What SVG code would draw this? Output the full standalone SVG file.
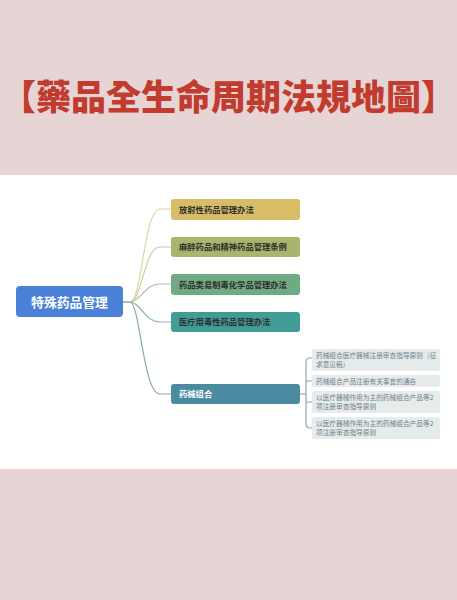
<svg xmlns="http://www.w3.org/2000/svg" width="457" height="600" viewBox="0 0 457 600">
<style>
.t{font-family:"Noto Sans CJK SC","Noto Sans",sans-serif;}
.c{font-size:8.3px;font-weight:700;fill:#2f2f2f;}
.s{font-size:6.7px;fill:#6f8288;}
.sb{fill:#e6ebec;}
.ln{fill:none;stroke-width:1.2;}
</style>
<rect width="457" height="600" fill="#e7d5d5"/>
<rect x="0" y="175" width="457" height="294" fill="#ffffff"/>
<text x="228.5" y="110" text-anchor="middle" font-family="'Noto Sans CJK TC','Noto Sans CJK SC',sans-serif" font-size="35" font-weight="900" fill="#c23b2f">【藥品全生命周期法規地圖】</text>
<g id="connectors">
<path class="ln" stroke="#e0d49c" d="M122,302 H130 C142,302 144,209 160,209 H171"/>
<path class="ln" stroke="#c9cf9c" d="M122,302 H130 C142,302 144,247 160,247 H171"/>
<path class="ln" stroke="#a7c4ae" d="M122,302 H130 C140,302 145,284 160,284 H171"/>
<path class="ln" stroke="#8fb9b3" d="M122,302 H130 C140,302 145,322 160,322 H171"/>
<path class="ln" stroke="#8aa7b2" d="M130,302 C140,302 143,394 160,394 H171"/>
<path class="ln" stroke="#8aa7b2" stroke-width="1" d="M300,394 H306"/>
<path class="ln" stroke="#8aa7b2" stroke-width="1" d="M312,358 H310 Q306,358 306,362 V424 Q306,428 310,428 H312 M306,381 H312 M306,402 H312"/>
</g>
<g id="root">
<rect x="16" y="286" width="107" height="31" rx="4" fill="#4a80d8"/>
<text class="t" x="69.5" y="306.5" text-anchor="middle" font-size="12.8" font-weight="700" fill="#ffffff">特殊药品管理</text>
</g>
<g id="n1">
<rect x="171" y="199" width="129" height="21" rx="3" fill="#d8bd68"/>
<text class="t c" x="179" y="212.5">放射性药品管理办法</text>
</g>
<g id="n2">
<rect x="171" y="237" width="129" height="20" rx="3" fill="#a9b46c"/>
<text class="t c" x="179" y="250">麻醉药品和精神药品管理条例</text>
</g>
<g id="n3">
<rect x="171" y="274" width="129" height="21" rx="3" fill="#70aa84"/>
<text class="t c" x="179" y="287.5">药品类易制毒化学品管理办法</text>
</g>
<g id="n4">
<rect x="171" y="312" width="129" height="20" rx="3" fill="#3f9d95"/>
<text class="t c" x="179" y="325">医疗用毒性药品管理办法</text>
</g>
<g id="n5">
<rect x="171" y="384" width="129" height="20" rx="3" fill="#4b8ba1"/>
<text class="t c" x="179" y="397" style="fill:#ffffff">药械组合</text>
</g>
<g id="s1">
<rect class="sb" x="312" y="349" width="128" height="22" rx="2"/>
<text class="t s" x="316" y="358">药械组合医疗器械注册审查指导原则（征</text>
<text class="t s" x="316" y="367">求意见稿）</text>
</g>
<g id="s2">
<rect class="sb" x="312" y="375" width="128" height="12" rx="2"/>
<text class="t s" x="316" y="383.5">药械组合产品注册有关事宜的通告</text>
</g>
<g id="s3">
<rect class="sb" x="312" y="391" width="128" height="22" rx="2"/>
<text class="t s" x="316" y="400">以医疗器械作用为主的药械组合产品等2</text>
<text class="t s" x="316" y="409">项注册审查指导原则</text>
</g>
<g id="s4">
<rect class="sb" x="312" y="417" width="128" height="22" rx="2"/>
<text class="t s" x="316" y="426">以医疗器械作用为主的药械组合产品等2</text>
<text class="t s" x="316" y="435">项注册审查指导原则</text>
</g>
</svg>
